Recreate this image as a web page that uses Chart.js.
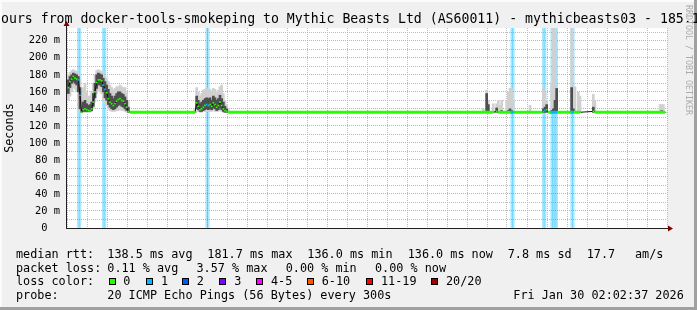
<!DOCTYPE html>
<html>
<head>
<meta charset="utf-8">
<script src="https://cdn.jsdelivr.net/npm/chart.js@4.4.1/dist/chart.umd.min.js"></script>
<style>
html, body { margin: 0; padding: 0; background: #f0f0f0; }
canvas { display: block; }
</style>
</head>
<body>
<canvas id="smokeChart" width="697" height="310"></canvas>
<script>
// sample times: minutes after Wed 20:00, one step = 300 s
const times = [
    10, 15, 20, 25, 30, 35, 40, 45, 50, 55, 60, 65, 70, 75, 80, 85, 90, 95, 100, 105,
    110, 115, 120, 125, 130, 135, 140, 145, 150, 155, 160, 165, 170, 175, 180, 185, 190, 195,
    390, 395, 400, 405, 410, 415, 420, 425, 430, 435, 440, 445, 450, 455, 460, 465, 470, 475, 480, 485, 490,
    1255, 1265, 1270, 1285, 1295, 1300, 1305, 1310, 1325, 1330, 1335, 1340, 1345, 1350, 1395, 1430, 1435, 1440, 1445, 1450,
    1455, 1460, 1465, 1470, 1475, 1480, 1515, 1520, 1525, 1530, 1540, 1545, 1585, 1590, 1785, 1790, 1795, 1800
];
// median rtt (ms)
const median = [
    165, 172, 175, 178, 176, 175, 174, 156, 136, 139, 140, 139, 138, 138, 140, 148, 160, 171, 174, 174,
    173, 168, 163, 159, 152, 148, 146, 144, 146, 149, 151, 152, 150, 149, 146, 142, 137, 136,
    136, 147, 143, 139, 140, 142, 144, 145, 144, 145, 143, 147, 145, 142, 144, 148, 144, 140, 138, 137, 136,
    136, 136, 136, 136, 137, 136, 136, 136, 136, 136, 136, 136, 136, 136, 136, 136, 137, 138, 139, 136,
    136, 136, 136, 136, 136, 136, 136, 136, 136, 136, 136, 136, 137, 136, 136, 136, 136, 136
];
// lost pings out of 20
const loss = [
    0, 0, 0, 0, 0, 0, 1, 1, 0, 0, 0, 0, 0, 0, 0, 0, 0, 0, 0, 0,
    0, 1, 1, 0, 0, 0, 0, 0, 0, 0, 0, 0, 0, 0, 0, 0, 0, 0,
    0, 0, 0, 0, 0, 0, 0, 1, 1, 0, 0, 0, 0, 0, 0, 0, 0, 0, 0, 0, 0,
    0, 0, 0, 0, 0, 0, 0, 0, 0, 0, 0, 1, 1, 0, 0, 0, 1, 1, 0, 0,
    0, 1, 1, 1, 1, 0, 0, 1, 1, 0, 0, 0, 0, 0, 0, 0, 0, 0
];
// smoke: full spread of the pings
const smokeLo = [
    150, 155, 160, 165, 163, 160, 140, 136, 136, 136, 136, 136, 136, 136, 137, 140, 148, 158, 162, 160,
    158, 150, 146, 144, 140, 138, 137, 137, 137, 138, 138, 139, 138, 138, 137, 136, 136, 136,
    136, 137, 137, 136, 136, 137, 137, 137, 137, 137, 137, 138, 137, 137, 137, 138, 137, 136, 136, 136, 136,
    136, 136, 136, 136, 136, 136, 136, 136, 136, 136, 136, 136, 136, 136, 136, 136, 136, 136, 136, 136,
    136, 136, 136, 136, 136, 136, 136, 136, 136, 136, 136, 136, 136, 136, 136, 136, 136, 136
];
const smokeHi = [
    180, 183, 185, 186, 185, 184, 182, 175, 150, 165, 170, 160, 155, 155, 160, 170, 180, 185, 186, 185,
    184, 182, 178, 176, 172, 168, 165, 162, 164, 166, 166, 168, 166, 165, 165, 160, 150, 136,
    140, 165, 160, 155, 158, 162, 163, 164, 162, 163, 160, 164, 163, 160, 162, 166, 168, 158, 150, 145, 140,
    140, 162, 150, 146, 146, 150, 144, 150, 150, 160, 164, 164, 150, 136, 144, 136, 164, 160, 150, 136,
    136, 170, 235, 235, 165, 136, 136, 235, 166, 166, 160, 155, 157, 150, 145, 145, 145, 136
];
// smoke: the denser middle of the pings
const coreLo = [
    158, 165, 170, 172, 170, 168, 160, 140, 136, 137, 137, 137, 137, 137, 138, 143, 153, 164, 168, 168,
    166, 160, 153, 150, 145, 142, 140, 139, 140, 142, 144, 145, 143, 142, 140, 138, 136, 136,
    136, 140, 139, 137, 137, 138, 139, 140, 139, 140, 139, 141, 140, 138, 139, 141, 139, 137, 136, 136, 136,
    136, 136, 136, 136, 136, 136, 136, 136, 136, 136, 136, 136, 136, 136, 136, 136, 136, 136, 136, 136,
    136, 136, 136, 136, 136, 136, 136, 136, 136, 136, 136, 136, 136, 136, 136, 136, 136, 136
];
const coreHi = [
    174, 178, 180, 182, 181, 180, 178, 165, 140, 148, 150, 146, 144, 145, 148, 158, 170, 180, 182, 181,
    180, 176, 172, 168, 163, 158, 155, 152, 155, 158, 160, 160, 158, 157, 154, 150, 142, 136,
    136, 155, 150, 146, 148, 150, 152, 153, 152, 153, 150, 155, 153, 150, 152, 156, 152, 148, 143, 140, 136,
    136, 158, 145, 136, 141, 136, 136, 138, 136, 138, 140, 138, 136, 136, 136, 136, 140, 142, 145, 136,
    136, 138, 140, 150, 164, 136, 136, 165, 140, 136, 136, 136, 142, 136, 136, 138, 136, 136
];
const tickMinutes = [240, 600, 960, 1320, 1680];
const tickLabels = ['Thu 00:00', 'Thu 06:00', 'Thu 12:00', 'Thu 18:00', 'Fri 00:00'];
const lossClasses = ['0', '1', '2', '3', '4-5', '6-10', '11-19', '20/20'];
const lossColors = ['#26ff00', '#00b8ff', '#0059ff', '#7e00ff', '#ff00ff', '#ff5500', '#ff0000', '#a10000'];

const Y_MAX = 235;
const MONO = '"DejaVu Sans Mono", monospace';
const RED_GRID = '#eb9c9c';
const GRAY_GRID = '#bcbcbc';

function lossClass(n) {
    if (n <= 3) return n;
    if (n <= 5) return 4;
    if (n <= 10) return 5;
    if (n < 20) return 6;
    return 7;
}
function fade(hex, a) {
    const v = parseInt(hex.slice(1), 16);
    return 'rgba(' + (v >> 16) + ',' + ((v >> 8) & 255) + ',' + (v & 255) + ',' + a + ')';
}

const lossBars = [];
times.forEach((t, i) => { if (loss[i] > 0) lossBars.push({ x: t, y: [0, Y_MAX], n: loss[i] }); });
const medianPts = times.map((t, i) => ({ x: t, y: median[i] }));

// legend / frame text, drawn straight on the canvas
const rrdDecor = {
    id: 'rrdDecor',
    beforeDraw(chart) {
        const c = chart.ctx, a = chart.chartArea, W = chart.width, H = chart.height;
        c.save();
        c.fillStyle = '#f0f0f0';
        c.fillRect(0, 0, W, H);
        c.fillStyle = '#fbfbfb';
        c.fillRect(0, 0, W, 2);
        c.fillRect(0, 0, 2, H);
        c.fillStyle = '#a0a0a0';
        c.fillRect(W - 3, 0, 3, H);
        c.fillRect(0, H - 3, W, 3);
        c.fillStyle = '#ffffff';
        c.fillRect(a.left, a.top, a.right - a.left, a.bottom - a.top);
        c.restore();
    },
    afterDatasetsDraw(chart) {
        const c = chart.ctx, a = chart.chartArea;
        c.save();
        c.fillStyle = '#202020';
        c.fillRect(a.left - 1, a.top - 4, 1, a.bottom - a.top + 5);
        c.fillRect(a.left - 1, a.bottom, a.right - a.left + 3, 1);
        c.fillStyle = '#7f0000';
        c.beginPath();
        c.moveTo(a.left - 0.5, a.top - 7);
        c.lineTo(a.left - 3.5, a.top - 2);
        c.lineTo(a.left + 2.5, a.top - 2);
        c.fill();
        c.beginPath();
        c.moveTo(a.right + 6, a.bottom + 0.5);
        c.lineTo(a.right + 1, a.bottom - 2.5);
        c.lineTo(a.right + 1, a.bottom + 3.5);
        c.fill();
        c.restore();
    },
    afterDraw(chart) {
        const c = chart.ctx;
        c.save();
        c.fillStyle = '#000';
        c.textBaseline = 'alphabetic';
        c.textAlign = 'left';
        c.font = '13.2px ' + MONO;
        c.fillText('ours from docker-tools-smokeping to Mythic Beasts Ltd (AS60011) - mythicbeasts03 - 185.1', 1, 22.5);

        c.font = '11.8px ' + MONO;
        const rows = [
            [['median rtt:', 16], ['138.5 ms avg', 107.3], ['181.7 ms max', 207.3], ['136.0 ms min', 307.3],
             ['136.0 ms now', 407.7], ['7.8 ms sd', 507.7], ['17.7', 586.7], ['am/s', 635]],
            [['packet loss:', 16], ['0.11 % avg', 107.3], ['3.57 % max', 196.5], ['0.00 % min', 285.7], ['0.00 % now', 375]],
            [['loss color:', 16]],
            [['probe:', 16], ['20 ICMP Echo Pings (56 Bytes) every 300s', 107.3], ['Fri Jan 30 02:02:37 2026', 513.3]]
        ];
        const baselines = [258, 271.7, 285.4, 299.1];
        rows.forEach((row, r) => row.forEach(([txt, x]) => c.fillText(txt, x, baselines[r])));

        const boxX = [109, 145.7, 182.3, 219, 255.7, 307.3, 365.7, 430.7];
        const labX = [123.3, 161, 196.7, 234.3, 271, 321.7, 381, 446];
        lossClasses.forEach((lbl, i) => {
            c.fillStyle = '#000';
            c.fillRect(Math.round(boxX[i]), 278, 7, 7);
            c.fillStyle = lossColors[i];
            c.fillRect(Math.round(boxX[i]) + 1, 279, 5, 5);
            c.fillStyle = '#000';
            c.fillText(lbl, labX[i], baselines[2]);
        });

        c.translate(688, 5);
        c.rotate(Math.PI / 2);
        c.font = '8.3px ' + MONO;
        c.fillStyle = '#ababab';
        c.textBaseline = 'middle';
        c.fillText('RRDTOOL / TOBI OETIKER', 0, 0);
        c.restore();
    }
};

const ctx = document.getElementById('smokeChart').getContext('2d');
new Chart(ctx, {
    type: 'bar',
    data: {
        datasets: [
            {
                label: 'loss',
                data: lossBars,
                backgroundColor: c => fade(lossColors[lossClass(c.raw ? c.raw.n : 1)], 0.33),
                barThickness: 2,
                grouped: false,
                order: 5
            },
            {
                label: 'smoke',
                data: times.map((t, i) => ({ x: t, y: [smokeLo[i], smokeHi[i]] })),
                backgroundColor: '#d0d0d0',
                barThickness: 2,
                grouped: false,
                order: 4
            },
            {
                label: 'smoke core',
                data: times.map((t, i) => ({ x: t, y: [coreLo[i], coreHi[i]] })),
                backgroundColor: '#4e4e4e',
                barThickness: 2,
                grouped: false,
                order: 3
            },
            {
                type: 'line',
                label: 'median',
                data: medianPts,
                borderColor: '#101010',
                borderWidth: 1,
                pointRadius: 0,
                order: 2
            },
            {
                type: 'line',
                label: 'median loss color',
                data: medianPts,
                borderWidth: 3,
                borderColor: lossColors[0],
                segment: {
                    borderColor: s => median[s.p1DataIndex] === median[s.p0DataIndex] && median[s.p0DataIndex] === 136
                        ? lossColors[lossClass(loss[s.p1DataIndex])] : 'rgba(0,0,0,0)'
                },
                pointStyle: 'rect',
                pointRadius: 1.2,
                pointBorderWidth: 0,
                pointBackgroundColor: c => lossColors[lossClass(loss[c.dataIndex])],
                order: 1
            }
        ]
    },
    options: {
        responsive: false,
        animation: false,
        events: [],
        devicePixelRatio: 1,
        layout: { padding: { left: 0, top: 28, right: 30, bottom: 0 } },
        plugins: {
            legend: { display: false },
            tooltip: { enabled: false }
        },
        scales: {
            x: {
                type: 'linear',
                min: 6,
                max: 1806,
                offset: false,
                ticks: {
                    stepSize: 60,
                    includeBounds: false,
                    autoSkip: false,
                    maxRotation: 0,
                    padding: 4,
                    color: '#000',
                    font: { family: MONO, size: 10.4 },
                    callback: v => {
                        const k = tickMinutes.indexOf(v);
                        return k < 0 ? '' : tickLabels[k];
                    }
                },
                grid: {
                    offset: false,
                    drawTicks: false,
                    lineWidth: 1,
                    color: c => (c.tick && c.tick.value % 180 === 60) ? RED_GRID : GRAY_GRID
                },
                border: { display: false, dash: [1, 1] },
                afterFit: s => { s.height = 82; }
            },
            y: {
                min: 0,
                max: Y_MAX,
                ticks: {
                    stepSize: 10,
                    includeBounds: false,
                    autoSkip: false,
                    padding: 7,
                    color: '#000',
                    font: { family: MONO, size: 10.4 },
                    callback: v => v % 20 ? '' : (v ? v + ' m' : '0  ')
                },
                grid: {
                    drawTicks: false,
                    lineWidth: 1,
                    color: c => (c.tick && c.tick.value % 20 === 0) ? RED_GRID : GRAY_GRID
                },
                border: { display: false, dash: [1, 1] },
                title: {
                    display: true,
                    text: 'Seconds',
                    color: '#000',
                    font: { family: MONO, size: 11.8 },
                    padding: { top: 3, bottom: 0 }
                },
                afterFit: s => { s.width = 67; }
            }
        }
    },
    plugins: [rrdDecor]
});
</script>
</body>
</html>
